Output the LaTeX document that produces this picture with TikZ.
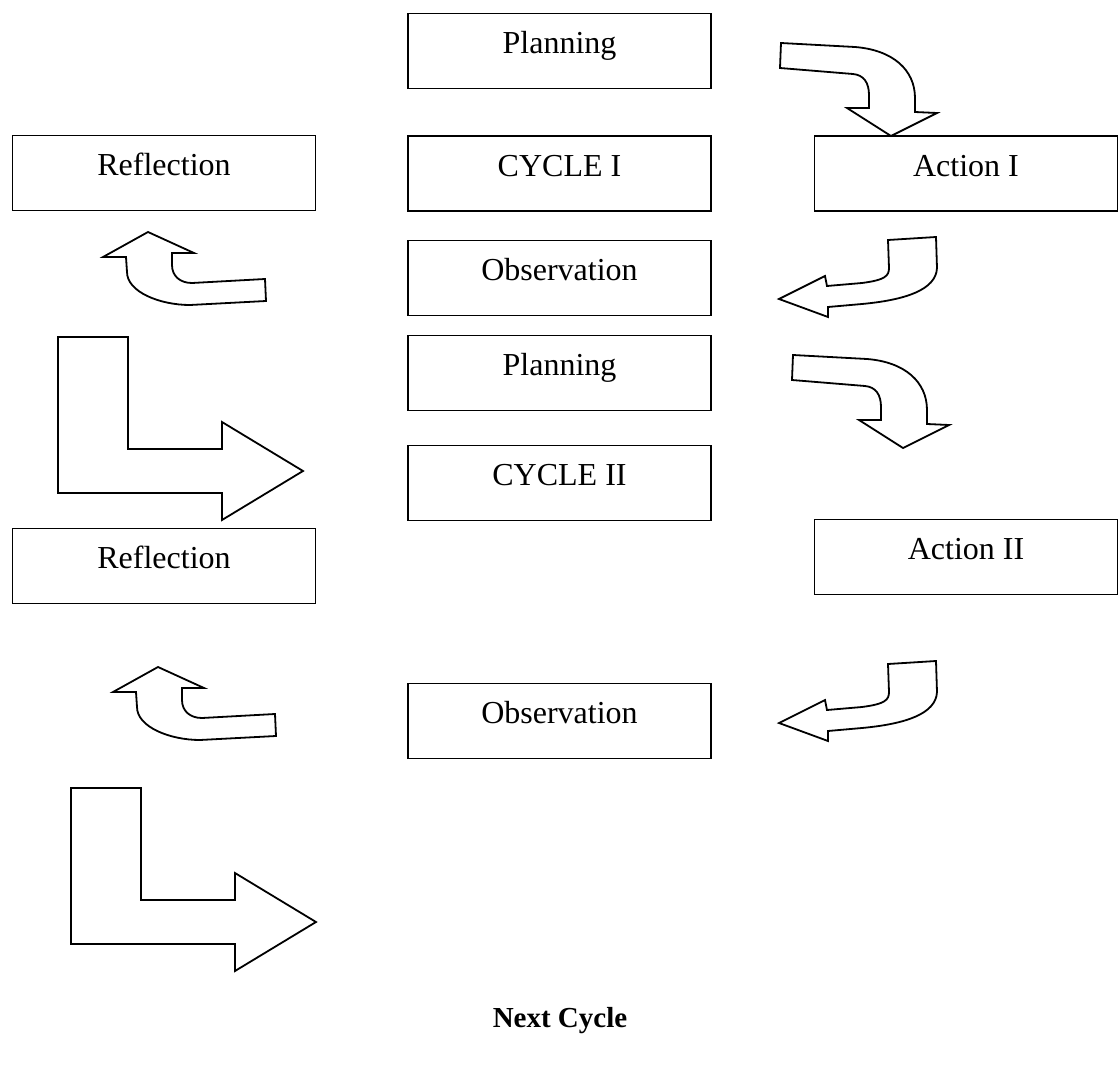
\documentclass[tikz,border=0pt]{standalone}
\usepackage{fontspec}
\setmainfont{Liberation Serif}
\usepackage{tikz}
\usetikzlibrary{calc}

\tikzset{
	stage/.style={draw, line width=1.8pt, minimum width=303pt, inner sep=0pt,
		text height=40pt, text depth=35pt, font=\fontsize{32}{38}\selectfont},
	blockarrow/.style={draw, line width=1.8pt, line join=miter, fill=white},
}

\begin{document}
\begin{tikzpicture}[x=1pt, y=-1pt]
	\useasboundingbox (0,0) rectangle (1120,1073);
	% the stages of both cycles
	\node [stage] (plan1) at (559.5,51) {Planning};
	\node [stage] (refl1) at (164,173) {Reflection};
	\node [stage] (cyc1) at (559.5,173.5) {CYCLE I};
	\node [stage] (act1) at (966,173.5) {Action I};
	\node [stage] (obs1) at (559.5,278) {Observation};
	\node [stage] (plan2) at (559.5,373) {Planning};
	\node [stage] (cyc2) at (559.5,483) {CYCLE II};
	\node [stage] (refl2) at (164,566) {Reflection};
	\node [stage] (act2) at (966,557) {Action II};
	\node [stage] (obs2) at (559.5,721) {Observation};
	\node [font=\fontsize{29}{34}\selectfont\bfseries] (next) at (560,1021) {Next Cycle};
	% bent arrows turning down
	\foreach \dx/\dy in {-12/-312, 0/0}
		\draw [blockarrow, shift={(\dx,\dy)}] (793,355) -- (867,359)
			.. controls (905,362) and (927,382) .. (927,410) -- (927,424)
			-- (949,425) -- (903,448) -- (859,420) -- (881,420) -- (881,407)
			.. controls (881,395) and (876,387) .. (865,386) -- (792,380) -- cycle;
	% curled arrows pointing left
	\foreach \dy in {0, 424}
		\draw [blockarrow, shift={(0,\dy)}] (888,240) -- (936,237) -- (937,268)
			.. controls (936,290) and (905,300) .. (862,304) -- (828,307)
			-- (828,317) -- (779,299) -- (825,276) -- (827,286) -- (862,283)
			.. controls (885,280) and (889,276) .. (889,268) -- cycle;
	% curled arrows pointing up
	\foreach \dx/\dy in {0/0, 10/435}
		\draw [blockarrow, shift={(\dx,\dy)}] (148,232) -- (194,253) -- (172,253)
			-- (172,265) .. controls (172,276) and (180,283) .. (192,283)
			-- (265,279) -- (266,301) -- (190,305)
			.. controls (160,305) and (127,292) .. (127,272) -- (126,257)
			-- (103,257) -- cycle;
	% L-shaped arrows
	\foreach \dx/\dy in {0/0, 13/451}
		\draw [blockarrow, shift={(\dx,\dy)}] (58,337) -- (128,337) -- (128,449)
			-- (222,449) -- (222,422) -- (303,471) -- (222,520) -- (222,493)
			-- (58,493) -- cycle;
\end{tikzpicture}
\end{document}
